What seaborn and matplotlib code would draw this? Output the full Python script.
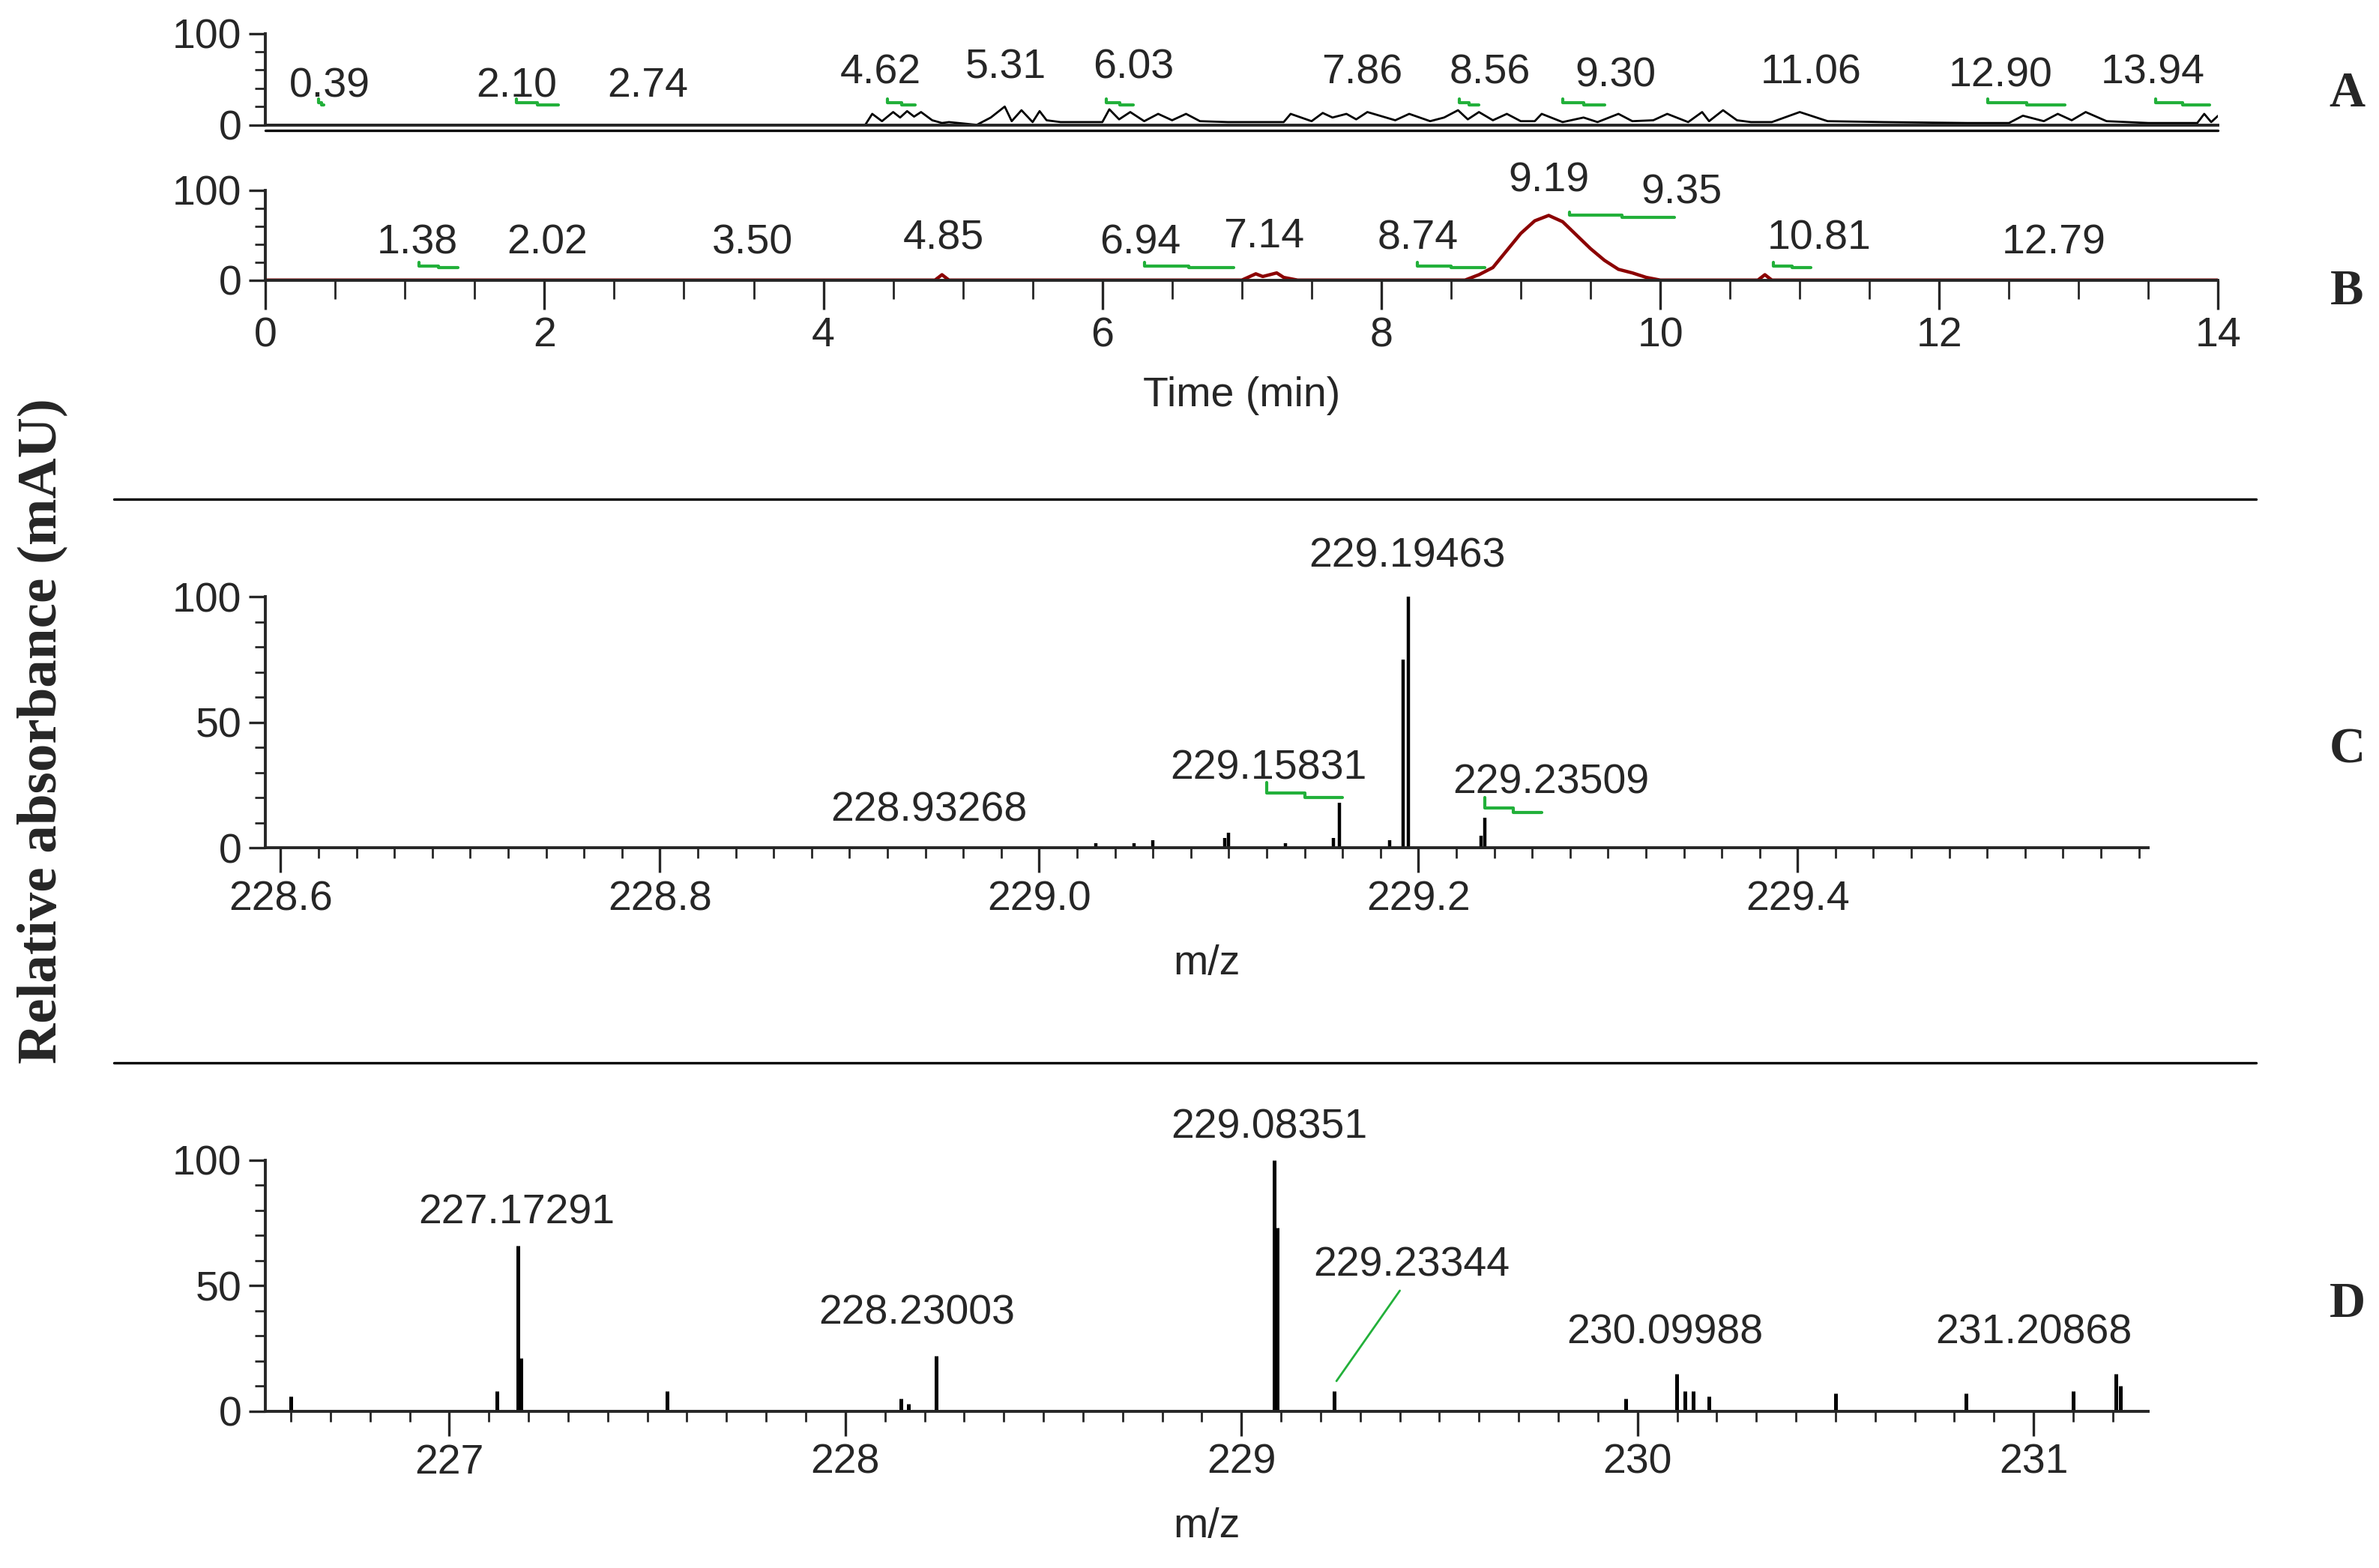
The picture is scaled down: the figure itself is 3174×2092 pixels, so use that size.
import matplotlib
matplotlib.use("Agg")
import matplotlib.pyplot as plt
from matplotlib.ticker import MultipleLocator
import numpy as np
import pandas as pd
import seaborn as sns

sns.set_style("ticks")
plt.rcParams['font.family'] = ['Liberation Sans', 'DejaVu Sans']

# chromatogram A (noisy trace knots)
a_time = [0, 4.3, 4.35, 4.42, 4.5, 4.55, 4.6, 4.65, 4.7, 4.78, 4.85, 4.9, 5.1, 5.2, 5.3, 5.35, 5.42, 5.5, 5.55, 5.6,
          5.7, 6.0, 6.05, 6.12, 6.2, 6.3, 6.4, 6.5, 6.6, 6.7, 6.9, 7.3, 7.35, 7.5, 7.58, 7.65, 7.75, 7.82, 7.9,
          8.1, 8.2, 8.35, 8.45, 8.55, 8.62, 8.7, 8.8, 8.9, 9.0, 9.1, 9.15, 9.3, 9.45, 9.55, 9.7, 9.8, 9.95, 10.05,
          10.2, 10.3, 10.35, 10.45, 10.55, 10.65, 10.8, 11.0, 11.2, 11.6, 12.2, 12.5, 12.6, 12.75, 12.85, 12.95, 13.05,
          13.2, 13.5, 13.85, 13.9, 13.95, 14.0]
a_val = [0, 0, 12, 4, 14, 8, 15, 9, 14, 5, 2, 3, 0, 8, 20, 4, 16, 3, 15, 5,
         3, 3, 17, 6, 14, 4, 12, 5, 12, 4, 3, 3, 12, 4, 13, 8, 12, 6, 14,
         5, 12, 4, 8, 16, 6, 14, 5, 12, 4, 4, 12, 3, 8, 3, 12, 4, 5, 12,
         3, 14, 4, 16, 5, 3, 3, 14, 4, 3, 2, 2, 10, 4, 12, 5, 14,
         4, 2, 2, 12, 3, 10]

# chromatogram B
b_time = [0, 4.8, 4.85, 4.9, 7.0, 7.1, 7.15, 7.25, 7.3, 7.4, 8.6, 8.7, 8.8, 8.9, 9.0, 9.1, 9.2, 9.3, 9.4, 9.5, 9.6,
          9.7, 9.8, 9.9, 10.0, 10.7, 10.75, 10.8, 14.0]
b_val = [0, 0, 6, 0, 0, 7, 4, 8, 3, 0, 0, 6, 14, 33, 52, 66, 72, 65, 50, 35, 22,
         12, 8, 3, 0, 0, 6, 0, 0]

a_labels = ['0.39', '2.10', '2.74', '4.62', '5.31', '6.03', '7.86', '8.56', '9.30', '11.06', '12.90', '13.94']
a_lab_x = [0.46, 1.80, 2.74, 4.41, 5.31, 6.22, 7.86, 8.78, 9.68, 11.08, 12.44, 13.53]
a_lab_y = [42, 42, 42, 57, 62, 62, 57, 57, 53, 57, 53, 57]
# green leader spans (start, end) on time axis
a_lead = [(0.38, 0.42), (1.80, 2.10), None, (4.46, 4.66), None, (6.03, 6.22), None, (8.56, 8.70),
          (9.30, 9.60), None, (12.35, 12.90), (13.55, 13.94)]

b_labels = ['1.38', '2.02', '3.50', '4.85', '6.94', '7.14', '8.74', '9.19', '9.35', '10.81', '12.79']
b_lab_x = [1.09, 2.02, 3.49, 4.86, 6.27, 7.16, 8.26, 9.20, 10.15, 11.14, 12.82]
b_lab_y = [41, 41, 41, 46, 41, 48, 46, 110, 97, 46, 41]
b_lead = [(1.10, 1.38), None, None, None, (6.30, 6.94), None, (8.26, 8.74), None, (9.35, 10.10),
          (10.81, 11.08), None]

# mass spectrum C
c_mz = [228.93268, 229.03, 229.05, 229.06, 229.098, 229.10, 229.13, 229.15831, 229.155, 229.185, 229.192,
        229.19463, 229.23509, 229.233]
c_int = [0.5, 2, 2, 3, 4, 6, 2, 18, 4, 3, 75, 100, 12, 5]
c_labels = ['229.19463', '229.15831', '229.23509', '228.93268']
c_lab_x = [229.194, 229.121, 229.270, 228.942]
c_lab_y = [116, 31.5, 26, 15]

# mass spectrum D
d_mz = [226.6, 227.12, 227.17291, 227.18, 227.55, 228.14, 228.16, 228.23003, 229.08351, 229.09, 229.23344,
        229.97, 230.09988, 230.12, 230.14, 230.18, 230.5, 230.83, 231.1, 231.20868, 231.22]
d_int = [6, 8, 66, 21, 8, 5, 3, 22, 100, 73, 8, 5, 15, 8, 8, 6, 7, 7, 8, 15, 10]
d_labels = ['227.17291', '228.23003', '229.08351', '229.23344', '230.09988', '231.20868']
d_lab_x = [227.17, 228.18, 229.07, 229.43, 230.07, 231.0]
d_lab_y = [79, 39, 113, 58, 31, 31]

W, H = 1568, 1030
fig = plt.figure(figsize=(15.87, 10.46), dpi=200)


def rect(x0, x1, ytop, ybot):
    return [x0 / W, 1 - ybot / H, (x1 - x0) / W, (ybot - ytop) / H]


FS = 20
GREEN = '#22b03a'


def style(ax):
    sns.despine(ax=ax, top=True, right=True)
    ax.tick_params(labelsize=FS, width=1.2, length=8, direction='out')
    ax.tick_params(which='minor', length=5, width=1)
    for s in ['left', 'bottom']:
        ax.spines[s].set_linewidth(1.4)


def leader(ax, span, y):
    if span is None:
        return
    s, e = span
    m = (s + e) / 2
    ax.plot([s, s, m, m, e], [y + 4, y, y, y - 2, y - 2], color=GREEN, lw=1.5)


axA = fig.add_axes(rect(175, 1462, 22, 82))
sns.lineplot(x=a_time, y=a_val, ax=axA, color='black', lw=1.0, estimator=None)
axA.axhline(-6, color='black', lw=1.2, clip_on=False)
axA.set_xlim(0, 14)
axA.set_ylim(0, 100)
axA.set_yticks([0, 100])
axA.yaxis.set_minor_locator(MultipleLocator(20))
axA.set_xticks([])
style(axA)
for t, x, y, sp in zip(a_labels, a_lab_x, a_lab_y, a_lead):
    axA.text(x, y, t, ha='center', va='center', fontsize=FS)
    leader(axA, sp, 24)

axB = fig.add_axes(rect(175, 1462, 125, 184))
sns.lineplot(x=b_time, y=b_val, ax=axB, color='#8b0000', lw=1.6, estimator=None)
axB.set_xlim(0, 14)
axB.set_ylim(0, 100)
axB.set_yticks([0, 100])
axB.yaxis.set_minor_locator(MultipleLocator(20))
axB.set_xticks(range(0, 15, 2))
axB.xaxis.set_minor_locator(MultipleLocator(0.5))
axB.set_xlabel('Time (min)', fontsize=FS, labelpad=10)
style(axB)
axB.tick_params(axis='x', length=14)
axB.tick_params(axis='x', which='minor', length=9)
for t, x, y, sp in zip(b_labels, b_lab_x, b_lab_y, b_lead):
    axB.text(x, y, t, ha='center', va='center', fontsize=FS)
    leader(axB, sp, 72 if t == '9.35' else 16)

for ysep in (328, 698):
    fig.add_artist(plt.Line2D([75 / W, 1487 / W], [1 - ysep / H] * 2, color='black', lw=1.2))

axC = fig.add_axes(rect(175, 1416, 392, 557))
axC.vlines(c_mz, 0, c_int, color='black', lw=1.6)
axC.set_xlim(228.592, 229.585)
axC.set_ylim(0, 100)
axC.set_yticks([0, 50, 100])
axC.yaxis.set_minor_locator(MultipleLocator(10))
axC.set_xticks([228.6, 228.8, 229.0, 229.2, 229.4])
axC.xaxis.set_major_formatter(plt.FormatStrFormatter('%.1f'))
axC.xaxis.set_minor_locator(MultipleLocator(0.02))
axC.set_xlabel('m/z', fontsize=FS, labelpad=12)
style(axC)
axC.tick_params(axis='x', length=12)
for t, x, y in zip(c_labels, c_lab_x, c_lab_y):
    axC.text(x, y, t, ha='center', va='center', fontsize=FS, clip_on=False)
leader(axC, (229.12, 229.16), 22)
leader(axC, (229.235, 229.265), 16)

axD = fig.add_axes(rect(175, 1416, 762, 927))
axD.vlines(d_mz, 0, d_int, color='black', lw=1.8)
axD.set_xlim(226.536, 231.29)
axD.set_ylim(0, 100)
axD.set_yticks([0, 50, 100])
axD.yaxis.set_minor_locator(MultipleLocator(10))
axD.set_xticks([227, 228, 229, 230, 231])
axD.xaxis.set_minor_locator(MultipleLocator(0.1))
axD.set_xlabel('m/z', fontsize=FS, labelpad=12)
style(axD)
axD.tick_params(axis='x', length=12)
for t, x, y in zip(d_labels, d_lab_x, d_lab_y):
    axD.text(x, y, t, ha='center', va='center', fontsize=FS, clip_on=False)
axD.plot([229.24, 229.40], [12, 48], color=GREEN, lw=1.0)

serif = ['Liberation Serif', 'DejaVu Serif']
for lab, yc in zip('ABCD', [62, 192, 493, 857]):
    fig.text(1547 / W, 1 - yc / H, lab, family=serif, fontweight='bold', fontsize=24, ha='center', va='center')
fig.text(28 / W, 1 - 480 / H, 'Relative absorbance (mAU)', family=serif, fontweight='bold',
         fontsize=27, rotation=90, ha='center', va='center')

fig.savefig('out.png', dpi=200)
